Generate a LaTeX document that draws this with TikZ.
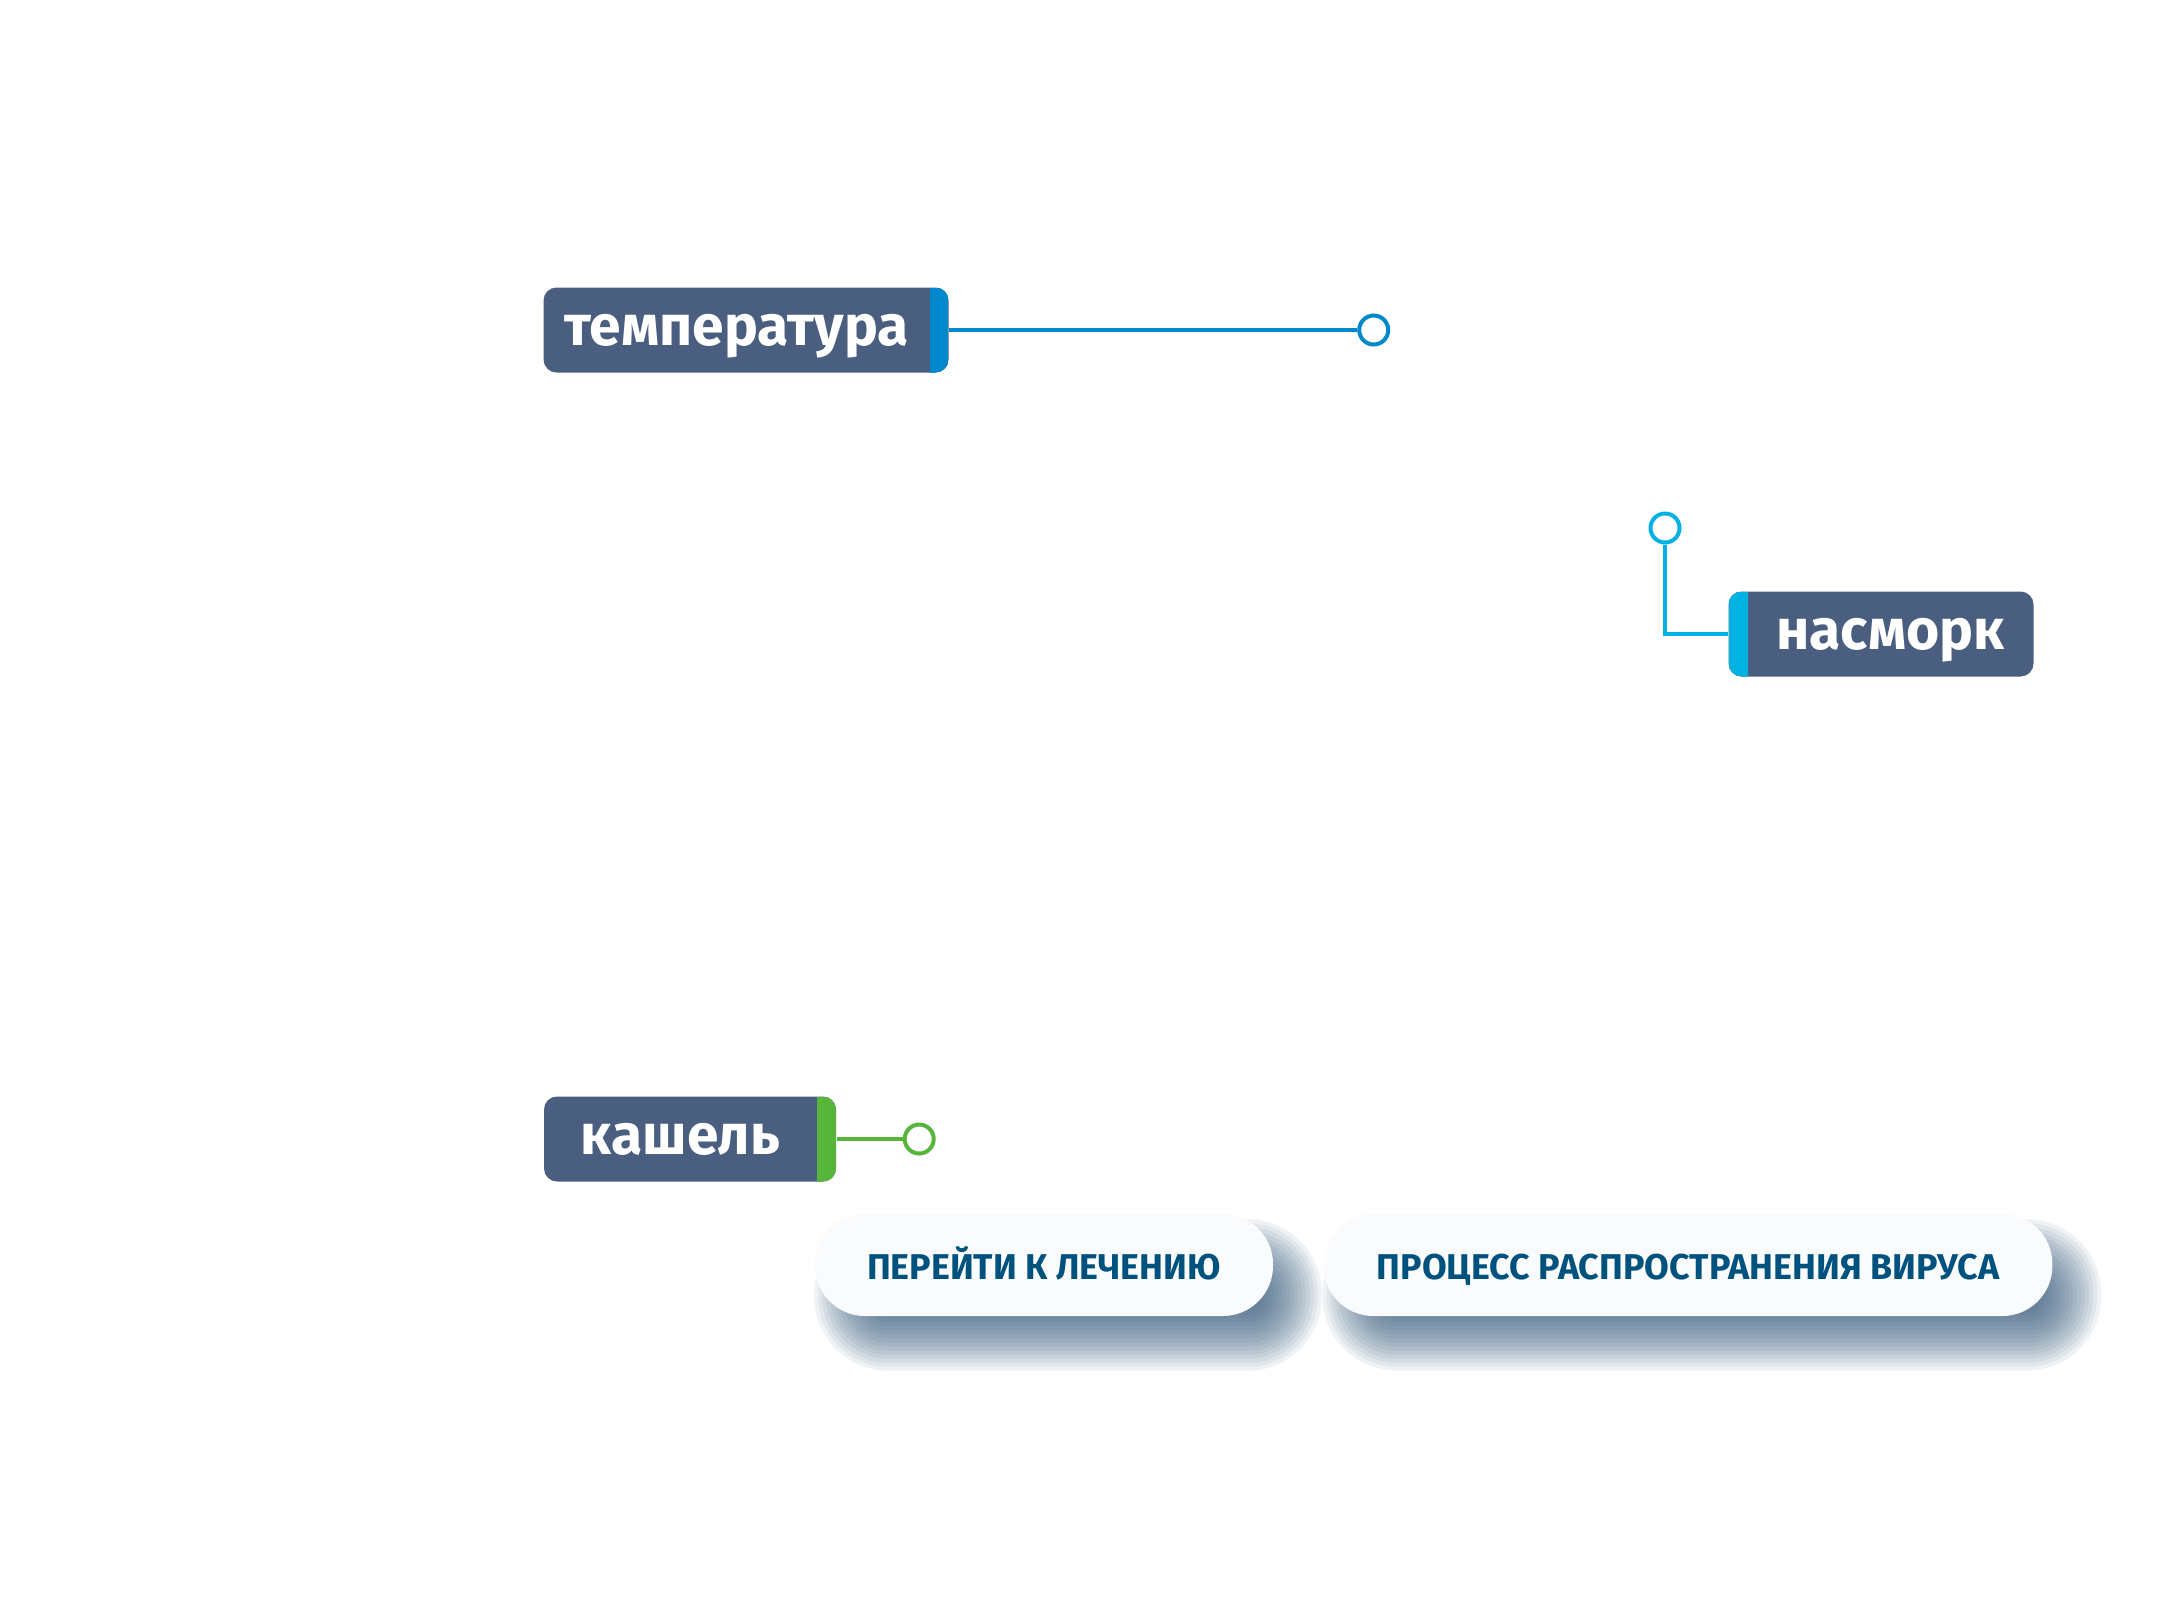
\documentclass[tikz,border=0pt]{standalone}
\usepackage{fontspec}
\setmainfont{Fira Sans}
\usetikzlibrary{positioning, backgrounds}
\definecolor{boxcol}{HTML}{4A5E80}
\definecolor{tempcol}{HTML}{0088CC}
\definecolor{nascol}{HTML}{00B2E2}
\definecolor{kashcol}{HTML}{57B53B}
\definecolor{btntext}{HTML}{00527E}
\definecolor{btnfill}{HTML}{FAFBFC}
\definecolor{shadowcol}{HTML}{2E5478}
\begin{document}
\begin{tikzpicture}[x=0.1mm, y=-0.1mm,
        symptom/.style = {fill=boxcol, rounded corners=1.3mm, minimum height=8.5mm, inner sep=0pt, text=white, text height=3mm, text depth=0pt, font=\bfseries\fontsize{16.2}{19}\selectfont},
        right stripe/.style = {path picture={\fill[#1, sharp corners] ([xshift=-1.9mm]path picture bounding box.north east) rectangle (path picture bounding box.south east);}},
        left stripe/.style = {path picture={\fill[#1, sharp corners] (path picture bounding box.north west) rectangle ([xshift=1.9mm]path picture bounding box.south west);}},
        endcircle/.style = {draw=#1, circle, fill=white, line width=0.4mm, minimum size=2.9mm, inner sep=0pt},
        link/.style = {draw=#1, line width=0.4mm},
        button/.style = {fill=btnfill, rounded corners=5mm, minimum height=10.2mm, inner sep=0pt, text=btntext, text height=2.8mm, text depth=0pt, font=\bfseries\fontsize{10.2}{12}\selectfont}]
    \useasboundingbox (0,0) rectangle (2160,1620);
    \node[symptom, right stripe=tempcol, minimum width=40.5mm] (temp) at (746,330) {температура\kern1.9mm};
    \node[endcircle=tempcol] (tempdot) [right=40.8mm of temp] {};
    \node[symptom, left stripe=nascol, minimum width=30.5mm] (nas) at (1881,634) {\kern1.9mm насморк};
    \node[endcircle=nascol] (nasdot) at (1665,528) {};
    \node[symptom, right stripe=kashcol, minimum width=29.2mm] (kash) at (690,1139) {кашель\kern1.9mm};
    \node[endcircle=kashcol] (kashdot) [right=6.6mm of kash] {};
    \node[button, minimum width=45.8mm] (treat) at (1044,1265) {ПЕРЕЙТИ К ЛЕЧЕНИЮ};
    \node[button, minimum width=72.9mm] (spread) [right=4.9mm of treat] {ПРОЦЕСС РАСПРОСТРАНЕНИЯ ВИРУСА};
    \draw[link=tempcol] (temp.east) -- (tempdot.west);
    \draw[link=nascol] (nasdot.south) |- (nas.west);
    \draw[link=kashcol] (kash.east) -- (kashdot.west);
    % soft shadows under the buttons
    \begin{scope}[on background layer]
        \fill[white] (0,0) rectangle (2160,1620);
        \foreach \b in {treat, spread}
            \foreach \i in {0,...,18} {
                \pgfmathsetmacro{\f}{-48+4*\i}
                \pgfmathsetmacro{\rc}{5+0.1*\f}
                \fill[shadowcol, opacity=0.075, rounded corners=\rc mm] ([shift={(24-\f,30-\f)}]\b.north west) rectangle ([shift={(24+\f,30+\f)}]\b.south east);
            }
    \end{scope}
\end{tikzpicture}
\end{document}
